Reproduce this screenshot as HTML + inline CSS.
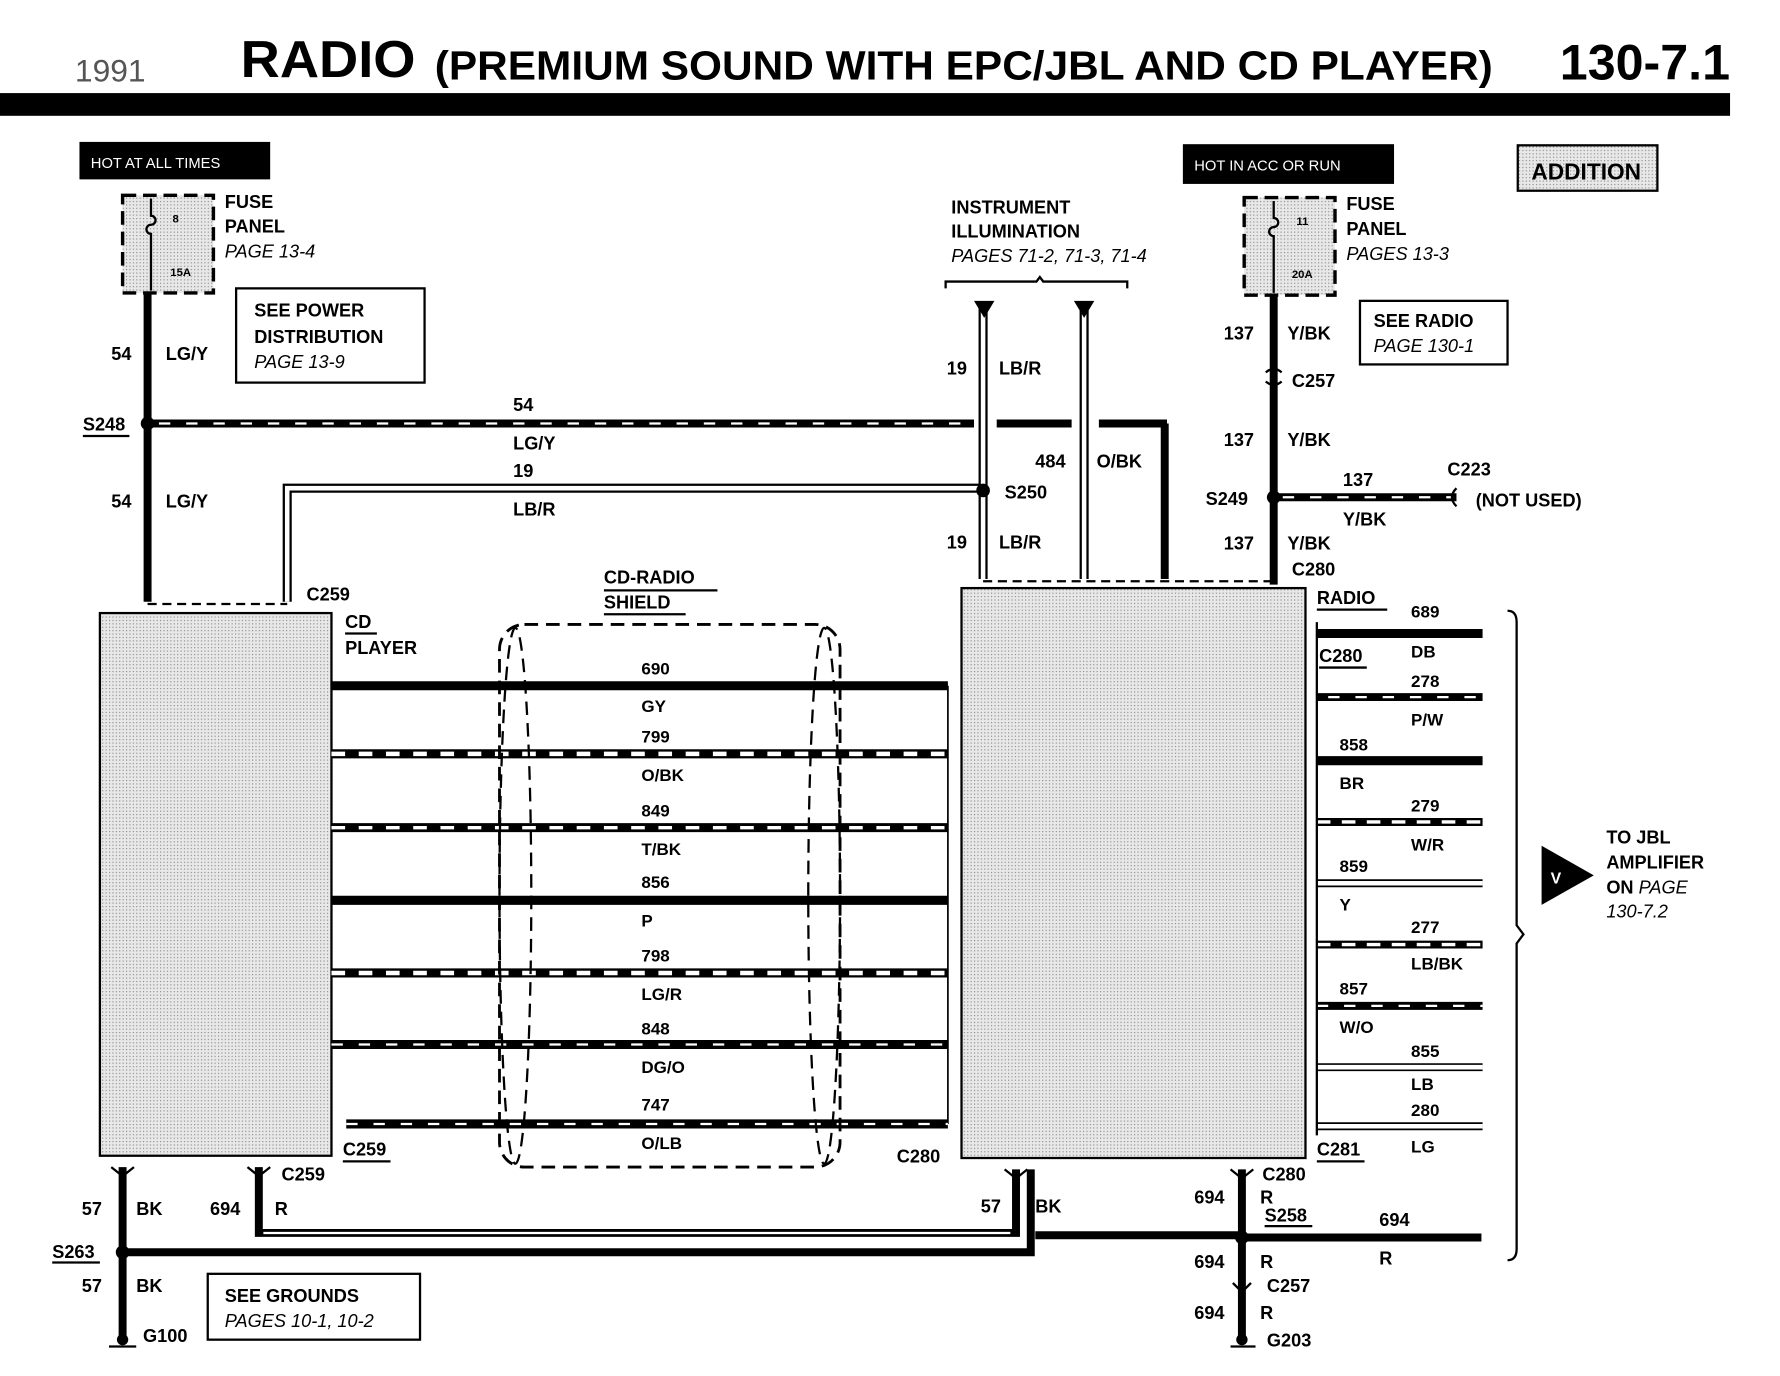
<!DOCTYPE html>
<html><head><meta charset="utf-8"><style>
html,body{margin:0;padding:0;background:#fff;}
svg{display:block;font-family:"Liberation Sans",sans-serif;font-weight:bold;}
</style></head><body>
<svg width="1780" height="1376" viewBox="0 0 1568 1212" preserveAspectRatio="none" xmlns="http://www.w3.org/2000/svg">
<defs>
<pattern id="dots" width="3" height="3" patternUnits="userSpaceOnUse"><rect width="3" height="3" fill="#e8e8e8"/><rect width="1" height="1" fill="#888"/></pattern>
</defs>
<!-- header -->
<text x="66" y="72" font-size="28" fill="#555" font-weight="normal">1991</text>
<text x="212" y="68" font-size="46" textLength="154" lengthAdjust="spacingAndGlyphs">RADIO</text>
<text x="383" y="70" font-size="36" textLength="932" lengthAdjust="spacingAndGlyphs">(PREMIUM SOUND WITH EPC/JBL AND CD PLAYER)</text>
<text x="1374" y="70" font-size="44" textLength="150" lengthAdjust="spacingAndGlyphs">130-7.1</text>
<rect x="0" y="82" width="1524" height="20" fill="#000"/>

<rect x="70" y="125" width="168" height="33" fill="#000"/>
<text x="80" y="148" font-size="13" fill="#fff" font-weight="normal">HOT AT ALL TIMES</text>
<rect x="1042" y="127" width="186" height="35" fill="#000"/>
<text x="1052" y="150" font-size="13" fill="#fff" font-weight="normal">HOT IN ACC OR RUN</text>
<rect x="1337" y="128" width="123" height="40" fill="url(#dots)" stroke="#000" stroke-width="2"/>
<text x="1349" y="158" font-size="20">ADDITION</text>

<!-- fuses -->
<rect x="108" y="172" width="80" height="86" fill="url(#dots)" stroke="#000" stroke-width="3" stroke-dasharray="12,6"/>
<text x="152" y="196" font-size="10">8</text><text x="150" y="243" font-size="10">15A</text>
<path d="M133 175 v15 a4 4 0 0 1 0 8 a4 4 0 0 0 0 8 v50" stroke="#000" stroke-width="2" fill="none"/>
<text x="198" y="183" font-size="16">FUSE</text><text x="198" y="205" font-size="16">PANEL</text>
<text x="198" y="227" font-size="16" font-style="italic" font-weight="normal">PAGE 13-4</text>
<rect x="1096" y="174" width="80" height="86" fill="url(#dots)" stroke="#000" stroke-width="3" stroke-dasharray="12,6"/>
<text x="1142" y="198" font-size="10">11</text><text x="1138" y="245" font-size="10">20A</text>
<path d="M1122 177 v15 a4 4 0 0 1 0 8 a4 4 0 0 0 0 8 v50" stroke="#000" stroke-width="2" fill="none"/>
<text x="1186" y="185" font-size="16">FUSE</text><text x="1186" y="207" font-size="16">PANEL</text>
<text x="1186" y="229" font-size="16" font-style="italic" font-weight="normal">PAGES 13-3</text>

<rect x="208" y="254" width="166" height="83" fill="#fff" stroke="#000" stroke-width="2"/>
<text x="224" y="279" font-size="16">SEE POWER</text><text x="224" y="302" font-size="16">DISTRIBUTION</text>
<text x="224" y="324" font-size="16" font-style="italic" font-weight="normal">PAGE 13-9</text>
<rect x="1198" y="265" width="130" height="56" fill="#fff" stroke="#000" stroke-width="2"/>
<text x="1210" y="288" font-size="16">SEE RADIO</text>
<text x="1210" y="310" font-size="16" font-style="italic" font-weight="normal">PAGE 130-1</text>

<text x="838" y="188" font-size="16">INSTRUMENT</text><text x="838" y="209" font-size="16">ILLUMINATION</text>
<text x="838" y="231" font-size="16" font-style="italic" font-weight="normal">PAGES 71-2, 71-3, 71-4</text>
<path d="M833 254 v-6 h80 l3 -4 l3 4 h74 v6" stroke="#000" stroke-width="2" fill="none"/>

<g stroke="#000" stroke-width="7">
<line x1="130" y1="258" x2="130" y2="530"/>
<line x1="130" y1="373" x2="858" y2="373"/>
<line x1="878" y1="373" x2="944" y2="373"/>
<line x1="968" y1="373" x2="1028" y2="373"/>
<line x1="1026" y1="373" x2="1026" y2="510"/>
<line x1="1122" y1="260" x2="1122" y2="515"/>
<line x1="1122" y1="438" x2="1283" y2="438"/>
</g>
<g stroke="#fff" stroke-width="2" stroke-dasharray="10,14">
<line x1="140" y1="373" x2="858" y2="373"/>
<line x1="1130" y1="438" x2="1280" y2="438"/>
</g>
<g stroke="#000" stroke-width="8" fill="none">
<path d="M253 530 V430 H866"/>
<line x1="866" y1="270" x2="866" y2="510"/>
<line x1="955" y1="270" x2="955" y2="510"/>
</g>
<g stroke="#fff" stroke-width="4" fill="none">
<path d="M253 530 V430 H866"/>
<line x1="866" y1="270" x2="866" y2="510"/>
<line x1="955" y1="270" x2="955" y2="510"/>
</g>
<polygon points="858,265 876,265 867,280" fill="#000"/>
<polygon points="946,265 964,265 955,280" fill="#000"/>
<circle cx="130" cy="373" r="6" fill="#000"/>
<circle cx="866" cy="432" r="6" fill="#000"/>
<circle cx="1122" cy="438" r="6" fill="#000"/>
<path d="M1115 328 q7 -6 14 0 M1115 336 q7 6 14 0" stroke="#000" stroke-width="2" fill="none"/>
<path d="M1283 430 q-8 8 0 16" stroke="#000" stroke-width="2" fill="none"/>
<line x1="130" y1="532" x2="253" y2="532" stroke="#000" stroke-width="2" stroke-dasharray="8,5"/>
<line x1="866" y1="512" x2="1122" y2="512" stroke="#000" stroke-width="2" stroke-dasharray="8,5"/>

<g font-size="16">
<text x="98" y="317">54</text><text x="146" y="317">LG/Y</text>
<text x="73" y="379">S248</text>
<text x="98" y="447">54</text><text x="146" y="447">LG/Y</text>
<text x="452" y="362">54</text><text x="452" y="396">LG/Y</text>
<text x="452" y="420">19</text><text x="452" y="454">LB/R</text>
<text x="834" y="330">19</text><text x="880" y="330">LB/R</text>
<text x="912" y="412">484</text><text x="966" y="412">O/BK</text>
<text x="885" y="439">S250</text>
<text x="834" y="483">19</text><text x="880" y="483">LB/R</text>
<text x="1078" y="299">137</text><text x="1134" y="299">Y/BK</text>
<text x="1138" y="341">C257</text>
<text x="1078" y="393">137</text><text x="1134" y="393">Y/BK</text>
<text x="1062" y="445">S249</text>
<text x="1183" y="428">137</text><text x="1183" y="463">Y/BK</text>
<text x="1275" y="419">C223</text><text x="1300" y="446">(NOT USED)</text>
<text x="1078" y="484">137</text><text x="1134" y="484">Y/BK</text>
<text x="1138" y="507">C280</text>
<text x="270" y="529">C259</text>
<text x="304" y="553">CD</text><text x="304" y="576">PLAYER</text>
<text x="532" y="514">CD-RADIO</text><text x="532" y="536">SHIELD</text>
<text x="1160" y="532">RADIO</text>
<text x="1162" y="583">C280</text>
<text x="302" y="1018">C259</text>
<text x="790" y="1024">C280</text>
<text x="1160" y="1018">C281</text>
</g>
<g stroke="#000" stroke-width="2">
<line x1="73" y1="384" x2="114" y2="384"/><line x1="1162" y1="588" x2="1204" y2="588"/>
<line x1="532" y1="520" x2="632" y2="520"/><line x1="532" y1="541" x2="604" y2="541"/>
<line x1="304" y1="558" x2="332" y2="558"/><line x1="1160" y1="537" x2="1222" y2="537"/>
<line x1="1160" y1="1023" x2="1202" y2="1023"/><line x1="302" y1="1023" x2="344" y2="1023"/>
</g>

<rect x="88" y="540" width="204" height="478" fill="url(#dots)" stroke="#000" stroke-width="2"/>
<rect x="847" y="518" width="303" height="502" fill="url(#dots)" stroke="#000" stroke-width="2"/>

<g stroke="#000" stroke-width="1.5" fill="none">
<path d="M292 604 V990 M835 604 V990"/>
</g>
<g>
<line x1="292" y1="604" x2="835" y2="604" stroke="#000" stroke-width="8"/>
<line x1="292" y1="664" x2="835" y2="664" stroke="#000" stroke-width="8"/><line x1="292" y1="664" x2="835" y2="664" stroke="#fff" stroke-width="4" stroke-dasharray="12,12"/>
<line x1="292" y1="729" x2="835" y2="729" stroke="#000" stroke-width="8"/><line x1="292" y1="729" x2="835" y2="729" stroke="#fff" stroke-width="3" stroke-dasharray="12,12"/>
<line x1="292" y1="793" x2="835" y2="793" stroke="#000" stroke-width="8"/>
<line x1="292" y1="857" x2="835" y2="857" stroke="#000" stroke-width="8"/><line x1="292" y1="857" x2="835" y2="857" stroke="#fff" stroke-width="4" stroke-dasharray="12,12"/>
<line x1="292" y1="920" x2="835" y2="920" stroke="#000" stroke-width="8"/><line x1="292" y1="920" x2="835" y2="920" stroke="#fff" stroke-width="2" stroke-dasharray="10,14"/>
<line x1="305" y1="990" x2="835" y2="990" stroke="#000" stroke-width="8"/><line x1="305" y1="990" x2="835" y2="990" stroke="#fff" stroke-width="2" stroke-dasharray="10,14"/>
</g>
<rect x="440" y="550" width="300" height="478" rx="22" fill="none" stroke="#000" stroke-width="2.5" stroke-dasharray="12,7"/>
<ellipse cx="454" cy="789" rx="14" ry="236" fill="none" stroke="#000" stroke-width="2" stroke-dasharray="12,7"/>
<ellipse cx="726" cy="789" rx="14" ry="236" fill="none" stroke="#000" stroke-width="2" stroke-dasharray="12,7"/>
<g font-size="15">
<text x="565" y="594">690</text><text x="565" y="627">GY</text>
<text x="565" y="654">799</text><text x="565" y="688">O/BK</text>
<text x="565" y="719">849</text><text x="565" y="753">T/BK</text>
<text x="565" y="782">856</text><text x="565" y="816">P</text>
<text x="565" y="847">798</text><text x="565" y="881">LG/R</text>
<text x="565" y="911">848</text><text x="565" y="945">DG/O</text>
<text x="565" y="978">747</text><text x="565" y="1012">O/LB</text>
</g>

<g>
<line x1="1160" y1="558" x2="1306" y2="558" stroke="#000" stroke-width="8"/>
<line x1="1160" y1="614" x2="1306" y2="614" stroke="#000" stroke-width="7"/><line x1="1170" y1="614" x2="1306" y2="614" stroke="#fff" stroke-width="2" stroke-dasharray="10,14"/>
<line x1="1160" y1="670" x2="1306" y2="670" stroke="#000" stroke-width="8"/>
<line x1="1160" y1="724" x2="1306" y2="724" stroke="#000" stroke-width="7"/><line x1="1160" y1="724" x2="1306" y2="724" stroke="#fff" stroke-width="3" stroke-dasharray="12,10"/>
<line x1="1160" y1="778" x2="1306" y2="778" stroke="#000" stroke-width="7"/><line x1="1160" y1="778" x2="1306" y2="778" stroke="#fff" stroke-width="4"/>
<line x1="1160" y1="832" x2="1306" y2="832" stroke="#000" stroke-width="7"/><line x1="1160" y1="832" x2="1306" y2="832" stroke="#fff" stroke-width="3" stroke-dasharray="12,10"/>
<line x1="1160" y1="886" x2="1306" y2="886" stroke="#000" stroke-width="7"/><line x1="1160" y1="886" x2="1306" y2="886" stroke="#fff" stroke-width="2" stroke-dasharray="10,14"/>
<line x1="1160" y1="940" x2="1306" y2="940" stroke="#000" stroke-width="7"/><line x1="1160" y1="940" x2="1306" y2="940" stroke="#fff" stroke-width="4"/>
<line x1="1160" y1="992" x2="1306" y2="992" stroke="#000" stroke-width="7"/><line x1="1160" y1="992" x2="1306" y2="992" stroke="#fff" stroke-width="4"/>
<line x1="1160" y1="548" x2="1160" y2="1000" stroke="#000" stroke-width="2"/>
</g>
<g font-size="15">
<text x="1243" y="544">689</text><text x="1243" y="579">DB</text>
<text x="1243" y="605">278</text><text x="1243" y="639">P/W</text>
<text x="1180" y="661">858</text><text x="1180" y="695">BR</text>
<text x="1243" y="715">279</text><text x="1243" y="749">W/R</text>
<text x="1180" y="768">859</text><text x="1180" y="802">Y</text>
<text x="1243" y="822">277</text><text x="1243" y="854">LB/BK</text>
<text x="1180" y="876">857</text><text x="1180" y="910">W/O</text>
<text x="1243" y="931">855</text><text x="1243" y="960">LB</text>
<text x="1243" y="983">280</text><text x="1243" y="1015">LG</text>
</g>
<path d="M1328 538 q8 0 8 10 V815 l6 8 l-6 8 V1100 q0 10 -8 10" stroke="#000" stroke-width="2" fill="none"/>
<polygon points="1358,745 1404,771 1358,797" fill="#000"/>
<text x="1366" y="778" font-size="14" fill="#fff">V</text>
<g font-size="16">
<text x="1415" y="743">TO JBL</text><text x="1415" y="765">AMPLIFIER</text>
<text x="1415" y="787">ON <tspan font-style="italic" font-weight="normal">PAGE</tspan></text>
<text x="1415" y="808" font-style="italic" font-weight="normal">130-7.2</text>
</g>

<g stroke="#000" stroke-width="7" fill="none">
<line x1="108" y1="1028" x2="108" y2="1178"/>
<path d="M228 1028 V1086 H895 V1030"/>
<path d="M108 1103 H908 V1030"/>
<line x1="1094" y1="1030" x2="1094" y2="1178"/>
<line x1="912" y1="1088" x2="1094" y2="1088"/>
<line x1="1094" y1="1090" x2="1305" y2="1090"/>
</g>
<line x1="232" y1="1086" x2="890" y2="1086" stroke="#fff" stroke-width="2"/>
<g stroke="#000" stroke-width="2" fill="none">
<path d="M98 1028 l10 8 l10 -8 M218 1028 l10 8 l10 -8 M885 1030 l10 8 l10 -8 M1084 1030 l10 8 l10 -8 M1086 1130 l8 8 l8 -8"/>
<line x1="96" y1="1186" x2="120" y2="1186"/><line x1="1084" y1="1186" x2="1106" y2="1186"/>
<line x1="46" y1="1112" x2="88" y2="1112"/><line x1="1114" y1="1080" x2="1156" y2="1080"/>
</g>
<circle cx="108" cy="1103" r="6" fill="#000"/><circle cx="1094" cy="1090" r="6" fill="#000"/>
<circle cx="108" cy="1180" r="5" fill="#000"/><circle cx="1094" cy="1180" r="5" fill="#000"/>
<g font-size="16">
<text x="248" y="1040">C259</text>
<text x="72" y="1070">57</text><text x="120" y="1070">BK</text>
<text x="185" y="1070">694</text><text x="242" y="1070">R</text>
<text x="46" y="1108">S263</text>
<text x="72" y="1138">57</text><text x="120" y="1138">BK</text>
<text x="126" y="1182">G100</text>
<text x="864" y="1068">57</text><text x="912" y="1068">BK</text>
<text x="1112" y="1040">C280</text>
<text x="1052" y="1060">694</text><text x="1110" y="1060">R</text>
<text x="1114" y="1076">S258</text>
<text x="1215" y="1080">694</text><text x="1215" y="1114">R</text>
<text x="1052" y="1117">694</text><text x="1110" y="1117">R</text>
<text x="1116" y="1138">C257</text>
<text x="1052" y="1162">694</text><text x="1110" y="1162">R</text>
<text x="1116" y="1186">G203</text>
</g>
<rect x="183" y="1122" width="187" height="58" fill="#fff" stroke="#000" stroke-width="2"/>
<text x="198" y="1147" font-size="16">SEE GROUNDS</text>
<text x="198" y="1169" font-size="16" font-style="italic" font-weight="normal">PAGES 10-1, 10-2</text>
</svg>
</body></html>
